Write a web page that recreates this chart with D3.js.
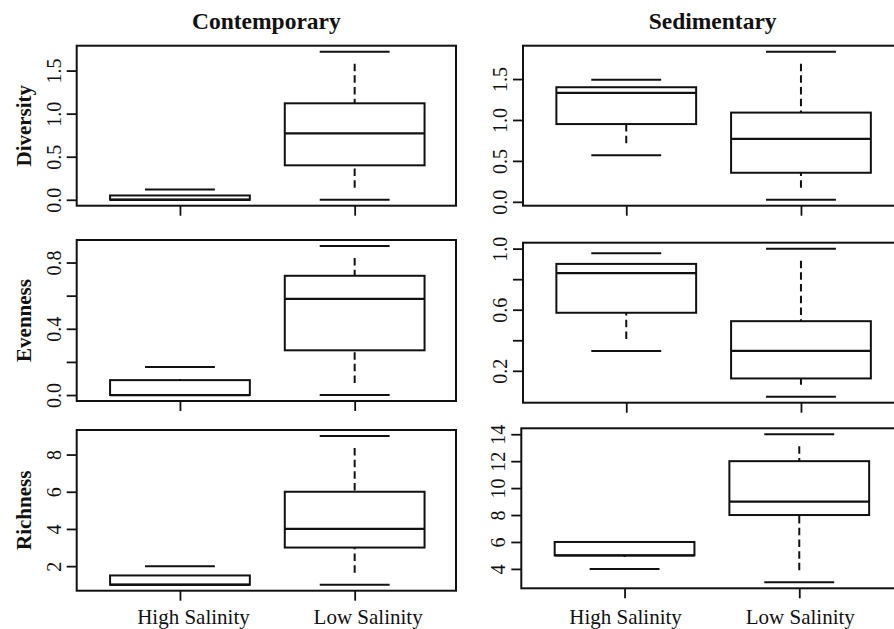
<!DOCTYPE html>
<html>
<head>
<meta charset="utf-8">
<script src="https://cdn.jsdelivr.net/npm/d3@7"></script>
<style>
  html, body { margin: 0; padding: 0; background: #fff; }
  svg { display: block; }
  text { font-family: "Liberation Serif", "Times New Roman", serif; fill: #111; }
</style>
</head>
<body>
<svg id="chart" width="894" height="629"></svg>
<script>
// Salinity groups, sample types and the three community metrics
const groups = ["High Salinity", "Low Salinity"];
const columns = ["Contemporary", "Sedimentary"];
const metrics = ["Diversity", "Evenness", "Richness"];

// Five-number summaries: [min, lower quartile, median, upper quartile, max]
const contDiversityHigh = [0, 0, 0, 0.05, 0.12];
const contDiversityLow  = [0, 0.40, 0.77, 1.12, 1.72];
const sedDiversityHigh  = [0.57, 0.95, 1.33, 1.40, 1.49];
const sedDiversityLow   = [0.025, 0.355, 0.77, 1.09, 1.835];

const contEvennessHigh = [0, 0, 0, 0.09, 0.17];
const contEvennessLow  = [0, 0.27, 0.58, 0.72, 0.90];
const sedEvennessHigh  = [0.33, 0.58, 0.84, 0.90, 0.97];
const sedEvennessLow   = [0.03, 0.15, 0.33, 0.525, 1.0];

const contRichnessHigh = [1, 1, 1, 1.5, 2];
const contRichnessLow  = [1, 3, 4, 6, 9];
const sedRichnessHigh  = [4, 5, 5, 6, 6];
const sedRichnessLow   = [3, 8, 9, 12, 14];

// Y-axis ticks and their printed labels (blank = tick without label)
const contDiversityTicks = [0, 0.5, 1.0, 1.5];
const contDiversityTickLabels = ["0.0", "0.5", "1.0", "1.5"];
const sedDiversityTicks = [0, 0.5, 1.0, 1.5];
const sedDiversityTickLabels = ["0.0", "0.5", "1.0", "1.5"];
const contEvennessTicks = [0, 0.2, 0.4, 0.6, 0.8];
const contEvennessTickLabels = ["0.0", "", "0.4", "", "0.8"];
const sedEvennessTicks = [0.2, 0.4, 0.6, 0.8, 1.0];
const sedEvennessTickLabels = ["0.2", "", "0.6", "", "1.0"];
const contRichnessTicks = [2, 4, 6, 8];
const contRichnessTickLabels = ["2", "4", "6", "8"];
const sedRichnessTicks = [4, 6, 8, 10, 12, 14];
const sedRichnessTickLabels = ["4", "6", "8", "10", "12", "14"];

// Panel table assembled from the arrays above
const panels = [
  { row: 0, col: 0, stats: [contDiversityHigh, contDiversityLow], ticks: contDiversityTicks, labels: contDiversityTickLabels },
  { row: 0, col: 1, stats: [sedDiversityHigh, sedDiversityLow],   ticks: sedDiversityTicks,  labels: sedDiversityTickLabels },
  { row: 1, col: 0, stats: [contEvennessHigh, contEvennessLow],   ticks: contEvennessTicks,  labels: contEvennessTickLabels },
  { row: 1, col: 1, stats: [sedEvennessHigh, sedEvennessLow],     ticks: sedEvennessTicks,   labels: sedEvennessTickLabels },
  { row: 2, col: 0, stats: [contRichnessHigh, contRichnessLow],   ticks: contRichnessTicks,  labels: contRichnessTickLabels },
  { row: 2, col: 1, stats: [sedRichnessHigh, sedRichnessLow],     ticks: sedRichnessTicks,   labels: sedRichnessTickLabels }
];

// Page geometry
const panelWidth = 379.3;
const panelLeft = [[76.7, 523], [76.7, 523], [76.7, 521.3]];
const panelTop = [[45.7, 45.7], [240, 242.7], [430, 428.3]];
const panelBottom = [[205.7, 205.7], [401, 402.7], [590.7, 588.3]];
const lineW = 2;
const ink = "#111";

// Whisker dash: a leading gap next to the staple, then regular dashes
const whiskerDash = [0, 12].concat(d3.range(20).flatMap(() => [7.5, 4.2])).join(",");

const svg = d3.select("#chart");

panels.forEach(p => {
  const left = panelLeft[p.row][p.col];
  const top = panelTop[p.row][p.col];
  const bottom = panelBottom[p.row][p.col];

  // Category positions 1..n, with the plotting region spanning a little past each end
  const x = d3.scaleLinear().domain([0.409, 2.58]).range([left, left + panelWidth]);

  // Y range covers the whisker extremes plus 4% on either side
  const lo = d3.min(p.stats, s => s[0]);
  const hi = d3.max(p.stats, s => s[4]);
  const pad = (hi - lo) * 0.04;
  const y = d3.scaleLinear().domain([lo - pad, hi + pad]).range([bottom, top]);

  const g = svg.append("g");

  // Boxes, medians, whiskers and staples
  p.stats.forEach((s, i) => {
    const c = i + 1;
    const [mn, q1, med, q3, mx] = s;
    const bx0 = x(c - 0.4), bx1 = x(c + 0.4);
    const sx0 = x(c - 0.2), sx1 = x(c + 0.2);

    // whiskers, drawn from the staple toward the box
    [[mx, q3], [mn, q1]].forEach(([end, edge]) => {
      if (end !== edge) {
        g.append("line")
          .attr("x1", x(c)).attr("x2", x(c))
          .attr("y1", y(end)).attr("y2", y(edge))
          .attr("stroke", ink).attr("stroke-width", lineW)
          .attr("stroke-dasharray", whiskerDash);
      }
    });
    // staples
    [mn, mx].forEach(v => {
      g.append("line")
        .attr("x1", sx0).attr("x2", sx1)
        .attr("y1", y(v)).attr("y2", y(v))
        .attr("stroke", ink).attr("stroke-width", lineW);
    });
    // box
    g.append("rect")
      .attr("x", bx0).attr("y", y(q3))
      .attr("width", bx1 - bx0).attr("height", Math.max(0, y(q1) - y(q3)))
      .attr("fill", "#fff").attr("stroke", ink).attr("stroke-width", lineW);
    // median
    g.append("line")
      .attr("x1", bx0).attr("x2", bx1)
      .attr("y1", y(med)).attr("y2", y(med))
      .attr("stroke", ink).attr("stroke-width", lineW + 0.3);
  });

  // Frame
  g.append("rect")
    .attr("x", left).attr("y", top)
    .attr("width", panelWidth).attr("height", bottom - top)
    .attr("fill", "none").attr("stroke", ink).attr("stroke-width", lineW);

  // Y axis with labels set parallel to the axis
  const yAxis = d3.axisLeft(y)
    .tickValues(p.ticks)
    .tickSize(10)
    .tickFormat((d, i) => p.labels[i]);
  const ya = g.append("g").attr("transform", `translate(${left},0)`).call(yAxis);
  ya.select(".domain").remove();
  ya.selectAll(".tick line").attr("stroke", ink).attr("stroke-width", 1.8);
  ya.selectAll(".tick text")
    .attr("transform", "rotate(-90)")
    .attr("x", 0).attr("y", -16).attr("dy", null)
    .attr("text-anchor", "middle")
    .style("font-family", "'Liberation Serif', 'Times New Roman', serif")
    .style("font-size", "20px")
    .attr("fill", ink);

  // X axis ticks at the two groups
  const xAxis = d3.axisBottom(x).tickValues([1, 2]).tickSize(10).tickFormat("");
  const xa = g.append("g").attr("transform", `translate(0,${bottom})`).call(xAxis);
  xa.select(".domain").remove();
  xa.selectAll(".tick line").attr("stroke", ink).attr("stroke-width", 1.8);

  // Group names under the bottom row
  if (p.row === metrics.length - 1) {
    const shift = p.col === 0 ? 13.5 : 1;
    g.selectAll("text.group")
      .data(groups)
      .join("text")
      .attr("class", "group")
      .attr("x", (d, i) => x(i + 1) + shift)
      .attr("y", 624)
      .attr("text-anchor", "middle")
      .style("font-size", "21px")
      .text(d => d);
  }

  // Metric name on the left column
  if (p.col === 0) {
    g.append("text")
      .attr("transform", `translate(${left - 45.5},${(top + bottom) / 2}) rotate(-90)`)
      .attr("text-anchor", "middle")
      .style("font-size", "21px")
      .style("font-weight", "bold")
      .text(metrics[p.row]);
  }

  // Column heading above the top row
  if (p.row === 0) {
    g.append("text")
      .attr("x", left + panelWidth / 2)
      .attr("y", 29)
      .attr("text-anchor", "middle")
      .style("font-size", "23.5px")
      .style("font-weight", "bold")
      .text(columns[p.col]);
  }
});
</script>
</body>
</html>
